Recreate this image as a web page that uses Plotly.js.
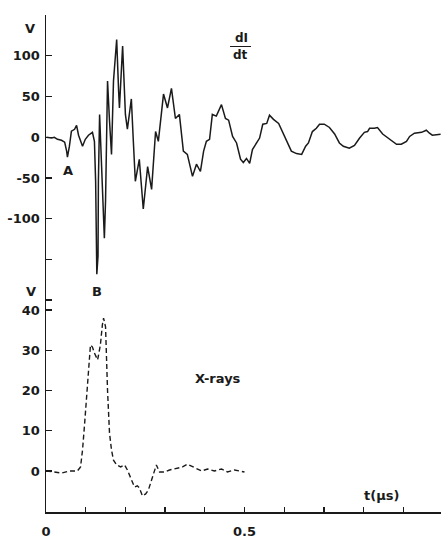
<!DOCTYPE html>
<html>
<head>
<meta charset="utf-8">
<script src="https://cdn.plot.ly/plotly-3.0.1.min.js"></script>
<style>
html,body{margin:0;padding:0;background:#fff;}
#chart{width:441px;height:539px;}
</style>
</head>
<body>
<div id="chart"></div>
<script>
// dI/dt trace (time in µs, volts)
const dIdtTime = [0.001,0.014,0.021,0.029,0.039,0.047,0.052,0.054,0.059,0.064,0.072,0.077,0.082,0.087,0.092,0.099,0.107,0.117,0.122,0.125,0.127,0.128,0.131,0.132,0.135,0.140,0.147,0.150,0.155,0.160,0.165,0.170,0.178,0.183,0.185,0.193,0.200,0.205,0.215,0.220,0.225,0.235,0.245,0.256,0.266,0.276,0.283,0.296,0.306,0.316,0.326,0.336,0.346,0.356,0.369,0.379,0.389,0.397,0.404,0.412,0.419,0.429,0.442,0.452,0.460,0.470,0.480,0.490,0.497,0.505,0.513,0.520,0.530,0.538,0.546,0.556,0.563,0.573,0.586,0.598,0.608,0.618,0.631,0.644,0.654,0.661,0.671,0.681,0.689,0.701,0.714,0.727,0.739,0.749,0.764,0.777,0.790,0.802,0.810,0.815,0.827,0.835,0.848,0.865,0.883,0.895,0.908,0.916,0.928,0.946,0.958,0.966,0.973,0.994];
const dIdtVolts = [0,-1,0,-2.5,-3.7,-6,-17,-24.5,-11,7.4,9.8,14.7,2.5,-4.9,-11,-2.5,2.5,6,-4.9,-54,-127,-168,-146,-54,28,-29,-124,-78,69,20,-21,69,120,56,36,112,28,10,47,-5,-54,-27,-88,-36,-64,7,-5,53,36,60,23,28,-17,-21,-48,-33,-42,-17,-5,-2.5,28,26,40,23,21,1,-7,-27,-31,-26,-32,-15,-7,-1,16,17,27,22,17,4,-6,-17,-20,-21,-11,-7,7,11,16,16,12,4,-7,-11,-13.5,-10,-1,6,7,11,11,12,4,-2.5,-8.6,-8.6,-5,1,5,6,8.6,5,2.5,3.7];

// X-ray trace (time in µs, volts)
const xrayTime = [0.001,0.016,0.039,0.059,0.079,0.087,0.092,0.097,0.102,0.107,0.112,0.117,0.122,0.130,0.137,0.142,0.145,0.150,0.152,0.155,0.160,0.165,0.170,0.178,0.188,0.198,0.205,0.215,0.223,0.230,0.235,0.243,0.251,0.258,0.268,0.278,0.286,0.298,0.311,0.329,0.344,0.356,0.367,0.379,0.392,0.407,0.424,0.442,0.457,0.475,0.500];
const xrayVolts = [0,-0.25,-0.5,0,0,1,5.2,11.4,17.6,23.9,31.3,30.8,29.3,27.6,31.3,36.3,38,35.8,27.6,20,9.4,5.2,2.7,1.5,1,1.5,0.25,-2.2,-4,-3.7,-4.2,-6.2,-5.7,-4.7,-1.5,1.5,-0.25,-0.25,0.25,0.75,1,1.7,1.2,0.5,0,0.5,0,0.5,-0.25,0.25,-0.25];

// tick labels
const xTickVals = [0,0.1,0.2,0.3,0.4,0.5,0.6,0.7,0.8,0.9];
const xTickText = ['0','','','','','0.5','','','',''];
const topTickVals = [150,100,50,0,-50,-100,-150];
const topTickText = ['','100','50','0','-50','-100',''];
const botTickVals = [42.5,40,30,20,10,0];
const botTickText = ['','40','30','20','10','0'];

const INK = '#1a1a1a';
const FONT = {family:'DejaVu Sans, Liberation Sans, sans-serif', size:13, color:INK, weight:'bold'};

// pixel -> paper helpers for annotation placement (plot area 46..441, 15..512)
const L = 46, R = 441, T = 15, B = 512;
const px = x => (x - L) / (R - L);
const py = y => (B - y) / (B - T);
const split = py(290);

const traces = [
  {x: dIdtTime, y: dIdtVolts, xaxis:'x', yaxis:'y', mode:'lines',
   line:{color:INK, width:1.5, shape:'linear'}, hoverinfo:'skip'},
  {x: xrayTime, y: xrayVolts, xaxis:'x', yaxis:'y2', mode:'lines',
   line:{color:INK, width:1.4, dash:'5px,3px'}, hoverinfo:'skip'}
];

function ann(text, x, y, size){
  return {text:text, xref:'paper', yref:'paper', x:px(x), y:py(y), showarrow:false,
          xanchor:'center', yanchor:'middle', font:Object.assign({}, FONT, {size:size||13})};
}

const axisCommon = {showline:true, linecolor:INK, linewidth:1.5, ticks:'inside', tickcolor:INK,
  tickwidth:1.3, showgrid:false, zeroline:false, tickfont:FONT, fixedrange:true};

const layout = {
  width:441, height:539,
  margin:{l:L, r:441-R, t:T, b:539-B, pad:0},
  paper_bgcolor:'#fff', plot_bgcolor:'#fff',
  showlegend:false,
  xaxis: Object.assign({}, axisCommon, {range:[0, (R-L)/397], anchor:'y2', tickmode:'array',
    tickvals:xTickVals, ticktext:xTickText, ticklen:5, ticklabelstandoff:7}),
  yaxis: Object.assign({}, axisCommon, {domain:[split,1], range:[-187.4,150], anchor:'x',
    tickmode:'array', tickvals:topTickVals, ticktext:topTickText, ticklen:6, ticklabelstandoff:2}),
  yaxis2: Object.assign({}, axisCommon, {domain:[0,split], range:[-10.19,44.97], anchor:'x',
    tickmode:'array', tickvals:botTickVals, ticktext:botTickText, ticklen:6, ticklabelstandoff:2}),
  annotations:[
    ann('V', 30, 29),
    ann('V', 31, 291),
    ann('A', 68, 170),
    ann('B', 97, 291),
    ann('dI', 241, 38, 12),
    ann('dt', 240, 55, 12),
    ann('X-rays', 218, 378, 13),
    ann('t(μs)', 381, 495, 13)
  ],
  shapes:[
    {type:'line', xref:'paper', yref:'paper', x0:px(230), x1:px(251), y0:py(46.5), y1:py(46.5),
     line:{color:INK, width:1}}
  ]
};

Plotly.newPlot('chart', traces, layout, {staticPlot:true, displayModeBar:false});
</script>
</body>
</html>
